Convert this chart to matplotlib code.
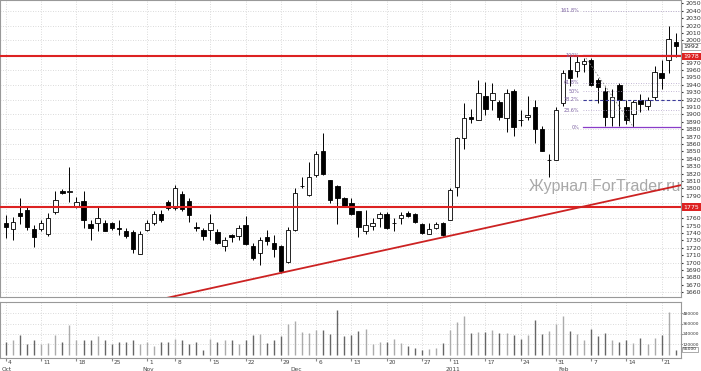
import numpy as np
import matplotlib
matplotlib.use("Agg")
import matplotlib.pyplot as plt
import matplotlib.transforms as mtransforms

# ---- data (daily candles, Oct 2010 - Feb 2011) ----
opens = [1754, 1745, 1767, 1771, 1745, 1745, 1739, 1768, 1797, 1795,
         1776, 1783, 1752, 1754, 1753, 1753, 1746, 1742, 1741, 1712,
         1744, 1754, 1765, 1782, 1774, 1793, 1783, 1748, 1744, 1744,
         1741, 1722, 1737, 1736, 1751, 1722, 1713, 1734, 1726, 1722,
         1701, 1744, 1803, 1791, 1818, 1851, 1811, 1803, 1787, 1781,
         1769, 1743, 1749, 1760, 1766, 1753, 1760, 1767, 1765, 1752,
         1739, 1747, 1754, 1758, 1802, 1868, 1896, 1893, 1925, 1920,
         1917, 1895, 1932, 1893, 1897, 1910, 1881, 1838, 1838, 1915,
         1960, 1959, 1968, 1974, 1947, 1932, 1896, 1940, 1910, 1901,
         1920, 1911, 1924, 1956, 1973, 1998]
highs = [1764, 1761, 1787, 1775, 1751, 1757, 1767, 1796, 1799, 1829,
         1789, 1796, 1757, 1776, 1757, 1755, 1757, 1746, 1744, 1742,
         1757, 1769, 1771, 1784, 1805, 1797, 1787, 1755, 1746, 1766,
         1745, 1734, 1738, 1751, 1763, 1726, 1735, 1744, 1737, 1723,
         1748, 1800, 1815, 1836, 1850, 1875, 1812, 1805, 1789, 1787,
         1770, 1771, 1760, 1768, 1768, 1760, 1768, 1770, 1767, 1754,
         1753, 1755, 1755, 1801, 1869, 1916, 1907, 1946, 1944, 1942,
         1920, 1935, 1934, 1906, 1925, 1920, 1884, 1847, 1910, 1960,
         1980, 1980, 1976, 1976, 1949, 1937, 1934, 1943, 1920, 1920,
         1928, 1924, 1965, 1974, 2019, 2010]
lows = [1733, 1731, 1752, 1744, 1721, 1742, 1736, 1766, 1792, 1782,
        1773, 1746, 1731, 1742, 1742, 1744, 1737, 1733, 1713, 1711,
        1742, 1751, 1755, 1771, 1771, 1769, 1755, 1742, 1731, 1730,
        1725, 1716, 1728, 1730, 1724, 1703, 1697, 1724, 1708, 1686,
        1700, 1742, 1800, 1790, 1816, 1818, 1781, 1752, 1775, 1764,
        1734, 1739, 1744, 1748, 1745, 1742, 1752, 1761, 1754, 1738,
        1738, 1745, 1736, 1757, 1790, 1854, 1888, 1892, 1899, 1906,
        1892, 1877, 1871, 1884, 1893, 1861, 1850, 1816, 1838, 1911,
        1938, 1951, 1958, 1938, 1915, 1885, 1884, 1884, 1887, 1883,
        1904, 1906, 1920, 1935, 1956, 1978]
closes = [1748, 1755, 1763, 1748, 1734, 1753, 1760, 1784, 1794, 1796,
          1782, 1758, 1747, 1760, 1743, 1747, 1745, 1736, 1718, 1738,
          1754, 1765, 1758, 1774, 1800, 1772, 1764, 1747, 1736, 1754,
          1727, 1730, 1735, 1747, 1725, 1706, 1730, 1729, 1718, 1688,
          1744, 1794, 1804, 1815, 1847, 1820, 1785, 1787, 1776, 1766,
          1748, 1751, 1754, 1765, 1747, 1754, 1764, 1763, 1755, 1740,
          1745, 1752, 1737, 1798, 1868, 1895, 1894, 1929, 1908, 1929,
          1897, 1929, 1883, 1892, 1899, 1880, 1851, 1838, 1906, 1956,
          1949, 1971, 1972, 1940, 1937, 1896, 1924, 1920, 1893, 1917,
          1914, 1920, 1958, 1949, 2002, 1992]
volume_k = [144, 172, 222, 125, 172, 117, 137, 222, 144, 339,
            172, 172, 164, 211, 172, 117, 144, 144, 164, 125,
            144, 105, 144, 144, 183, 164, 125, 144, 47, 183,
            144, 172, 164, 125, 172, 222, 242, 137, 172, 211,
            359, 390, 261, 250, 281, 281, 242, 523, 211, 222,
            273, 300, 125, 144, 144, 183, 137, 105, 78, 55,
            66, 78, 133, 281, 378, 445, 250, 261, 261, 281,
            250, 250, 222, 183, 222, 398, 242, 273, 359, 445,
            273, 234, 172, 300, 211, 250, 172, 144, 172, 133,
            195, 125, 195, 222, 495, 55]

# Mondays / first trading day of each month
tick_idx = [0, 5, 10, 15, 20, 24, 29, 34, 39, 44, 49, 54, 59, 63, 68, 73, 78, 83, 88, 93]
tick_days = ['4', '11', '18', '25', '1', '8', '15', '22', '29', '6',
             '13', '20', '27', '11', '17', '24', '31', '7', '14', '21']
month_idx = [0, 20, 41, 63, 79]
month_names = ['Oct', 'Nov', 'Dec', '2011', 'Feb']

# horizontal levels, trend line anchors and fibonacci swing
red_levels = [1978.5, 1775]
trend_pts = [(39, 1686), (95, 1803)]
fib_hi = (82, 1980)
fib_lo = (89, 1883)
fib_ratios = [1.618, 1.0, 0.618, 0.5, 0.382, 0.236, 0.0]
fib_labels = ['161.8%', '100%', '61.8%', '50%', '38.2%', '23.6%', '0%']
vol_ticks = [120000, 240000, 360000, 480000]

W, H = 701, 371
fig = plt.figure(figsize=(W / 100, H / 100), dpi=100)
ax = fig.add_axes([0, (H - 296.7) / H, 681 / W, 296.7 / H])
axv = fig.add_axes([0, (H - 358.3) / H, 681 / W, 56.6 / H], sharex=ax)

x = np.arange(len(opens))
o = np.array(opens, float)
c = np.array(closes, float)
up = c >= o

grid_kw = dict(color='#cfcfcf', lw=0.6, ls=(0, (1, 2)), zorder=0)

# ---- price panel ----
ax.vlines(x, lows, highs, color='black', lw=0.7, zorder=3)
body = np.maximum(np.abs(c - o), 0.8)
ax.bar(x, body, bottom=np.minimum(o, c), width=0.62,
       color=np.where(up, 'white', 'black'), edgecolor='black', lw=0.6, zorder=4)

ax.set_xlim(-0.85, 95.75)
ax.set_ylim(1653.8, 2054.7)
for g in range(1660, 2051, 20):
    ax.axhline(g, **grid_kw)
for t in tick_idx:
    ax.axvline(t, **grid_kw)
    axv.axvline(t, **grid_kw)

# price scale on the right; labels hidden behind the level boxes are skipped
box_levels = red_levels + [closes[-1]]
yt = [v for v in range(1660, 2051, 10) if min(abs(v - b) for b in box_levels) > 5.5]
ax.yaxis.tick_right()
ax.set_yticks(yt)
ax.tick_params(axis='y', labelsize=4.5, length=1.5, pad=1.5, colors='#333333')
ax.tick_params(axis='x', bottom=False, labelbottom=False)

# red support / resistance lines
for lv in red_levels:
    ax.axhline(lv, color='#dd2222', lw=1.5, zorder=5)

# trend line
(x1, y1), (x2, y2) = trend_pts
k = (y2 - y1) / (x2 - x1)
tx = np.array([-1, 96])
ax.plot(tx, y1 + k * (tx - x1), color='#cc2222', lw=1.3, zorder=5)

# fibonacci retracement
rng = fib_hi[1] - fib_lo[1]
fib_start = 81.8
for r, lab in zip(fib_ratios, fib_labels):
    lv = fib_lo[1] + r * rng
    if r in (0.0, 1.0):
        st = dict(color='#8a3cc8', lw=0.9, ls='-')
    elif r == 0.382:
        st = dict(color='#3b3b9a', lw=0.8, ls=(0, (3, 2)))
    else:
        st = dict(color='#b0a0c8', lw=0.6, ls=(0, (1, 2)))
    ax.plot([fib_start, 95.75], [lv, lv], zorder=4, **st)
    ax.text(fib_start - 0.5, lv, lab, fontsize=3.5, color='#7a5fa0',
            ha='right', va='center', zorder=6)
ax.plot([fib_hi[0], fib_lo[0]], [fib_hi[1], fib_lo[1]], color='#888888',
        lw=0.6, ls=(0, (2, 2)), zorder=4)

# watermark
ax.text(0.999, 0.37, 'Журнал ForTrader.ru', transform=ax.transAxes,
        fontsize=11.5, family='Liberation Sans', color='#a8a8a8',
        ha='right', va='center', zorder=2)

# right axis boxes
ytr = mtransforms.blended_transform_factory(ax.transAxes, ax.transData)
for lv in red_levels:
    ax.text(1.004, lv, f'{lv:.0f}', transform=ytr, fontsize=4.5, color='white',
            ha='left', va='center', clip_on=False, zorder=10,
            bbox=dict(boxstyle='square,pad=0.2', fc='#dd2222', ec='none'))
ax.text(1.004, closes[-1], f'{closes[-1]:.0f}', transform=ytr, fontsize=4.5,
        color='#222222', ha='left', va='center', clip_on=False, zorder=10,
        bbox=dict(boxstyle='square,pad=0.2', fc='white', ec='#888888', lw=0.5))

# ---- volume panel ----
vols = np.array(volume_k) * 1000
axv.vlines(x, 0, vols, colors=np.where(up, '#ababab', '#666666'), lw=1.0, zorder=3)
axv.set_ylim(-44000, 615000)
for g in vol_ticks:
    axv.axhline(g, **grid_kw)
axv.yaxis.tick_right()
axv.set_yticks(vol_ticks)
axv.set_yticklabels([str(v) for v in vol_ticks])
axv.tick_params(axis='y', labelsize=3.2, length=0.8, pad=0.5, colors='#333333')
axv.set_xticks(tick_idx)
axv.tick_params(axis='x', length=2, colors='#888888', labelbottom=False)
vtr = mtransforms.blended_transform_factory(axv.transAxes, axv.transData)
axv.text(1.003, 60000, f'{volume_k[-1] * 1000}', transform=vtr, fontsize=3.2,
         color='#222222', ha='left', va='center', clip_on=False, zorder=10,
         bbox=dict(boxstyle='square,pad=0.15', fc='white', ec='#888888', lw=0.5))

xtr = mtransforms.blended_transform_factory(axv.transData, axv.transAxes)
for t, d in zip(tick_idx, tick_days):
    axv.text(t + 0.3, -0.08, d, transform=xtr, fontsize=4.2, color='#444444',
             ha='left', va='center', clip_on=False)
for t, m in zip(month_idx, month_names):
    axv.text(t - 0.6, -0.19, m, transform=xtr, fontsize=4.2, color='#444444',
             ha='left', va='center', clip_on=False)

for a in (ax, axv):
    for s in a.spines.values():
        s.set_color('#999999')
        s.set_linewidth(0.8)

fig.savefig('out.png', dpi=100)
